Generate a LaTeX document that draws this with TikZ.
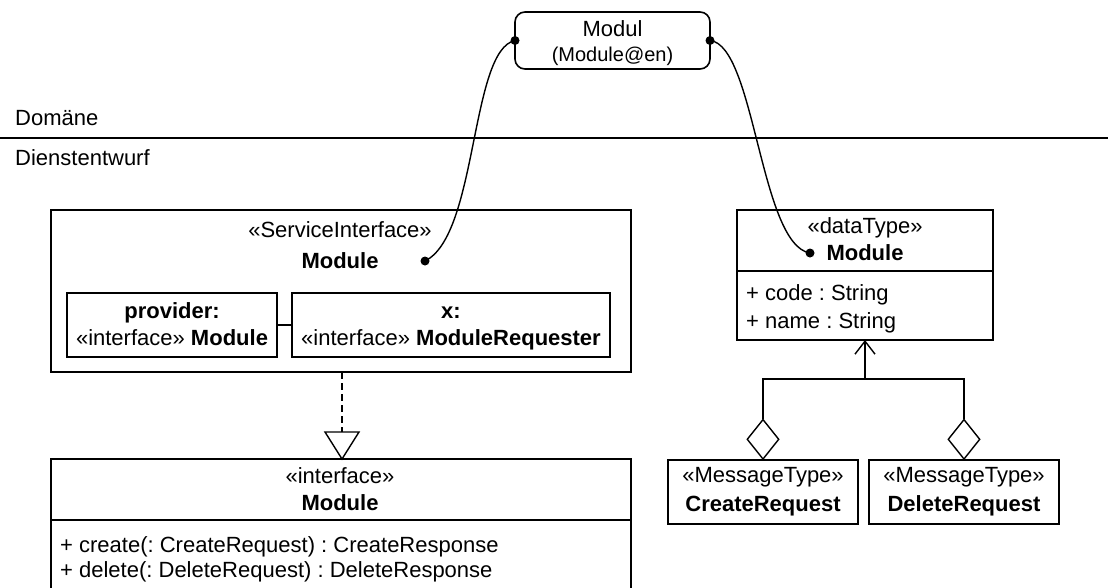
\documentclass[tikz,border=0pt]{standalone}
\usepackage{fontspec}
\setmainfont{Liberation Sans}
\usetikzlibrary{arrows.meta,shapes.geometric}
\newcommand\fs{\fontsize{22}{26}\selectfont\frenchspacing}
\tikzset{
  box/.style={draw, rectangle, line width=1.6pt, inner sep=0pt, outer sep=0pt},
  txt/.style={inner sep=0pt, anchor=base, font=\fs},
  ltxt/.style={inner sep=0pt, anchor=base west, font=\fs},
  conn/.style={line width=1.4pt},
  dotmark/.style={circle, fill=black, inner sep=0pt, minimum size=9pt},
  dia/.style={diamond, draw, fill=white, line width=1.4pt, inner sep=0pt, minimum width=32pt, minimum height=40pt}
}
\begin{document}
\frenchspacing
\begin{tikzpicture}[x=1pt,y=-1pt]
\useasboundingbox (0,0) rectangle (1108,587);
\clip (0,0) rectangle (1108,587);
% layer separator
\coordinate (sepL) at (0,138);
\coordinate (sepR) at (1108,138);
\draw[line width=1.8pt] (sepL) -- (sepR);
\node[ltxt] (dom) at (15,125) {Domäne};
\node[ltxt] (dien) at (15,165) {Dienstentwurf};
% Modul
\node[box, rounded corners=10pt, minimum width=195pt, minimum height=57pt] (modul) at (612.5,40.5) {};
\node[txt] (modulT) at (612.5,36) {Modul};
\node[txt, font=\fontsize{20}{24}\selectfont] (modulE) at (612.5,61) {(Module@en)};
% Service interface
\node[box, minimum width=580pt, minimum height=162pt] (svc) at (341,291) {};
\node[txt] (svcS) at (340,237) {«ServiceInterface»};
\node[txt, font=\fs\bfseries] (svcN) at (340,268) {Module};
\node[box, minimum width=210pt, minimum height=64pt] (prov) at (172,325) {};
\node[txt, font=\fs\bfseries] (provA) at (172,318) {provider:};
\node[txt] (provB) at (172,345) {«interface» \textbf{Module}};
\node[box, minimum width=318pt, minimum height=64pt] (xb) at (451,325) {};
\node[txt, font=\fs\bfseries] (xA) at (451,318) {x:};
\node[txt] (xB) at (451,345) {«interface» \textbf{ModuleRequester}};
\draw[conn] (prov.east) -- (xb.west);
% interface Module
\node[box, minimum width=580pt, minimum height=141pt] (iface) at (341,529.5) {};
\draw[line width=1.6pt] (iface.west |- 0,520) coordinate (ifsepL) -- (iface.east |- 0,520) coordinate (ifsepR);
\node[txt] (ifS) at (340,483) {«interface»};
\node[txt, font=\fs\bfseries] (ifN) at (340,510) {Module};
\node[ltxt] (op1) at (60,552) {+ create(: CreateRequest) : CreateResponse};
\node[ltxt] (op2) at (60,577) {+ delete(: DeleteRequest) : DeleteResponse};
% realization
\coordinate (tri) at (342,432);
\draw[conn, dash pattern=on 7pt off 4pt] (svc.south -| tri) -- (tri);
\draw[conn, fill=white] (tri) ++(-17,0) -- ++(34,0) -- (iface.north -| tri) -- cycle;
% dataType Module
\node[box, minimum width=256pt, minimum height=130pt] (dt) at (865,275) {};
\draw[line width=1.6pt] (dt.west |- 0,271) coordinate (dtsepL) -- (dt.east |- 0,271) coordinate (dtsepR);
\node[txt] (dtS) at (865,233) {«dataType»};
\node[txt, font=\fs\bfseries] (dtN) at (865,260) {Module};
\node[ltxt] (at1) at (746,300) {+ code : String};
\node[ltxt] (at2) at (746,328) {+ name : String};
% message types
\node[box, minimum width=190pt, minimum height=64pt] (m1) at (763,492) {};
\node[txt] (m1S) at (763,482) {«MessageType»};
\node[txt, font=\fs\bfseries] (m1N) at (763,511) {CreateRequest};
\node[box, minimum width=190pt, minimum height=64pt] (m2) at (964,492) {};
\node[txt] (m2S) at (964,482) {«MessageType»};
\node[txt, font=\fs\bfseries] (m2N) at (964,511) {DeleteRequest};
\node[dia, anchor=south] (d1) at (m1.north) {};
\node[dia, anchor=south] (d2) at (m2.north) {};
\coordinate (j) at (865,379);
\draw[conn] (d1.north) -- (d1.north |- j) -- (d2.north |- j) -- (d2.north);
\draw[conn, -{Straight Barb[length=13pt, width=20pt]}] (j) -- (dt.south);
% trace links
\coordinate (svcdot) at (425,261);
\coordinate (dtdot) at (810,253);
\draw[conn] (modul.west) .. controls (470,50) and (478,235) .. (svcdot);
\draw[conn] (modul.east) .. controls (755,45) and (760,245) .. (dtdot);
\node[dotmark] (md1) at (modul.west) {};
\node[dotmark] (md2) at (modul.east) {};
\node[dotmark] (sd) at (svcdot) {};
\node[dotmark] (dd) at (dtdot) {};
\end{tikzpicture}
\end{document}
